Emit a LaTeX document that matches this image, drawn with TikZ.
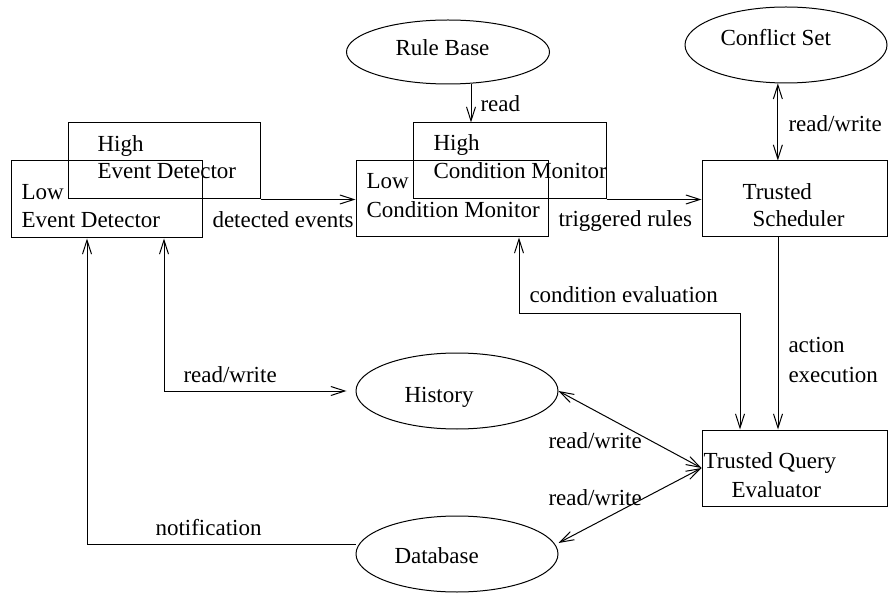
\documentclass[tikz,border=0pt]{standalone}
\usepackage{fontspec}
\setmainfont{Liberation Serif}
\usetikzlibrary{arrows.meta,shapes.geometric,fit}

\tikzset{
  box/.style={draw, line width=1pt, inner sep=0pt},
  store/.style={draw, ellipse, line width=1pt, inner sep=0pt},
  txt/.style={anchor=base west, inner sep=0pt},
  >={Straight Barb[length=14pt,width=9pt]},
}

\begin{document}
\begin{tikzpicture}[x=1pt, y=-1pt, line width=1pt, font=\fontsize{23}{28}\selectfont]
  \useasboundingbox (0,0) rectangle (888,593);

  % Add boxes
  \node[box, fit={(11,161) (202,238)}] (lowed) {};
  \node[box, fit={(68,123) (260,199)}] (highed) {};
  \node[box, fit={(356,161) (548,237)}] (lowcm) {};
  \node[box, fit={(413,123) (606,199)}] (highcm) {};
  \node[box, fit={(702,161) (887,237)}] (sched) {};
  \node[box, fit={(702,430) (887,506)}] (tqe) {};

  % Add stores
  \node[store, minimum width=203pt, minimum height=64pt] (rules) at (448,52) {};
  \node[store, minimum width=202pt, minimum height=76pt] (conflict) at (786,45) {};
  \node[store, minimum width=202pt, minimum height=76pt] (history) at (457,391) {};
  \node[store, minimum width=202pt, minimum height=76pt] (database) at (457,554) {};

  % Texts inside
  \node[txt] (lowedA) at (21,200) {Low};
  \node[txt] (lowedB) at (21,228) {Event Detector};
  \node[txt] (highedA) at (97,152) {High};
  \node[txt] (highedB) at (97,179) {Event Detector};
  \node[txt] (lowcmA) at (366,189) {Low};
  \node[txt] (lowcmB) at (366,218) {Condition Monitor};
  \node[txt] (highcmA) at (433,151) {High};
  \node[txt] (highcmB) at (433,179) {Condition Monitor};
  \node[txt] (schedA) at (742,200) {Trusted};
  \node[txt] (schedB) at (752,227) {Scheduler};
  \node[txt] (tqeA) at (703,468) {Trusted Query};
  \node[txt] (tqeB) at (731,497) {Evaluator};
  \node[txt] (rulesA) at (395,56) {Rule Base};
  \node[txt] (conflictA) at (720,46) {Conflict Set};
  \node[txt] (historyA) at (404,402) {History};
  \node[txt] (databaseA) at (394,563) {Database};

  % Connectors
  \draw[->] (highed.south east) -- (lowcm.west |- highed.south east);
  \draw[->] (highcm.south east) -- (sched.west |- highcm.south east);
  \draw[->] (rules.-54) -- (rules.-54 |- highcm.north);
  \draw[<->] (conflict.-102) -- (conflict.-102 |- sched.north);
  \draw[->] (778,0 |- sched.south) -- (778,0 |- tqe.north);
  \draw[<->] (519,0 |- lowcm.south) |- (740,314) -- (740,0 |- tqe.north);
  \draw[<->] (164,0 |- lowed.south) |- ([xshift=-9pt]history.west);
  \draw[->] ([yshift=10pt]database.west) -| (87,0 |- lowed.south);
  \draw[<->] (history.east) -- (tqe.west);
  \draw[<->] ([yshift=11pt]database.east) -- (tqe.west);

  % Connector labels
  \node[txt] (lread) at (480,112) {read};
  \node[txt] (lconflict) at (788,132) {read/write};
  \node[txt] (ldetected) at (212,228) {detected events};
  \node[txt] (ltriggered) at (558,227) {triggered rules};
  \node[txt] (lcondition) at (529,303) {condition evaluation};
  \node[txt] (lactionA) at (788,352) {action};
  \node[txt] (lactionB) at (788,382) {execution};
  \node[txt] (lhistory) at (183,382) {read/write};
  \node[txt] (lnotify) at (155,535) {notification};
  \node[txt] (lqueryA) at (548,448) {read/write};
  \node[txt] (lqueryB) at (548,505) {read/write};

\end{tikzpicture}
\end{document}
